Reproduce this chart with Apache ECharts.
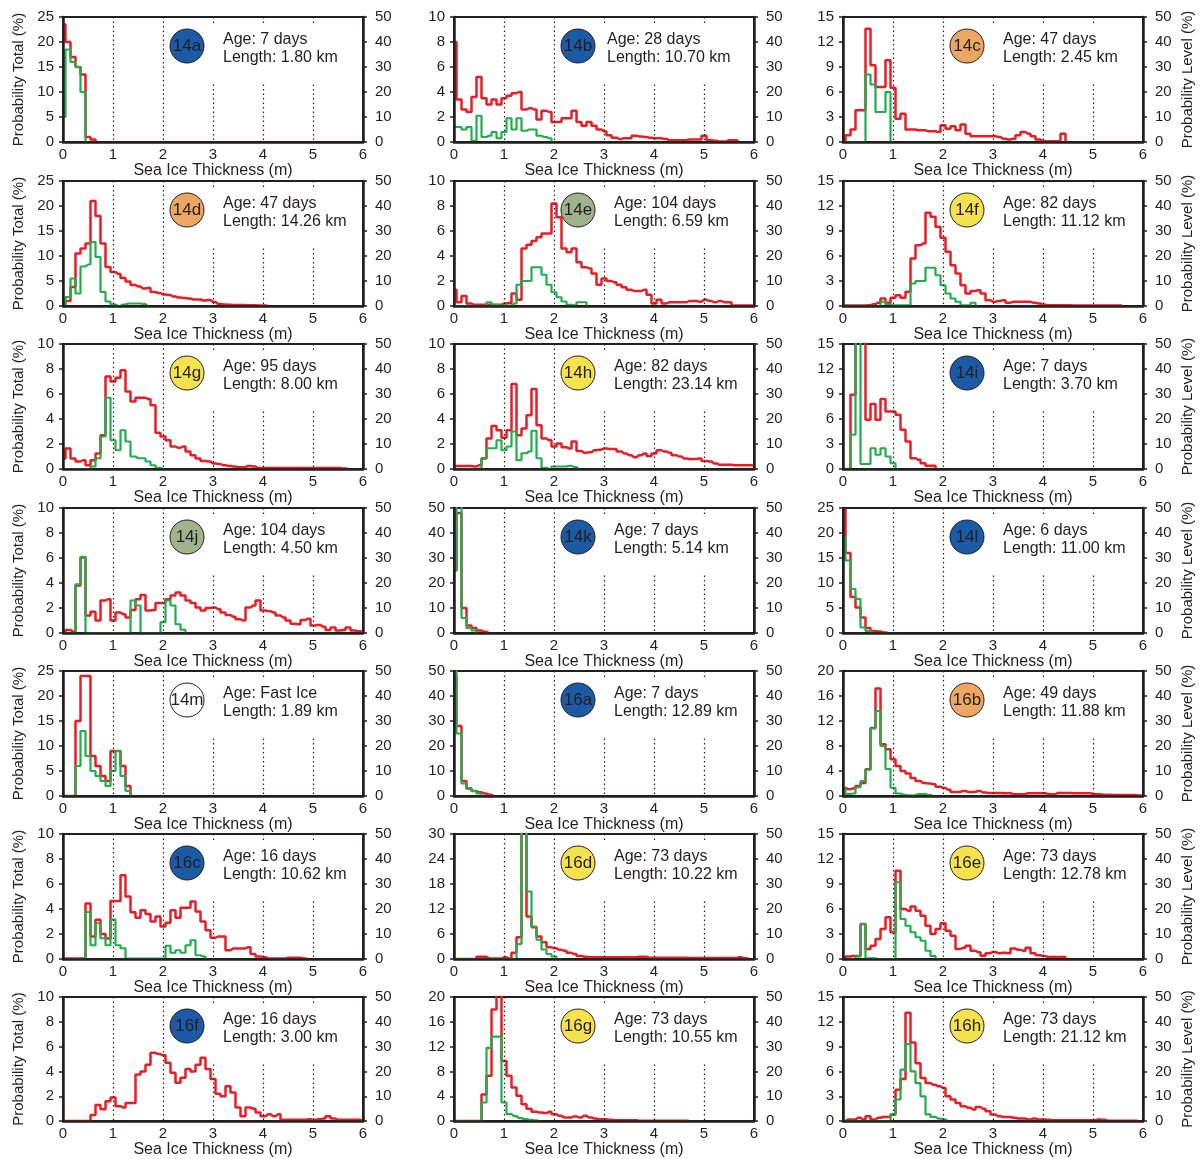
<!DOCTYPE html>
<html>
<head>
<meta charset="utf-8">
<script src="https://cdn.jsdelivr.net/npm/echarts@6/dist/echarts.min.js"></script>
<style>
html, body { margin: 0; padding: 0; background: #fff; }
#chart { width: 1202px; height: 1159px; }
</style>
</head>
<body>
<div id="chart"></div>
<script>
// bins are 0.1 m wide, centred on 0.0, 0.1, 0.2 ... m
const binWidth = 0.1;

// panel labels and texts
const panelIds = ['14a', '14b', '14c', '14d', '14e', '14f', '14g', '14h', '14i', '14j', '14k', '14l', '14m', '16a', '16b', '16c', '16d', '16e', '16f', '16g', '16h'];
const ages = ['7 days', '28 days', '47 days', '47 days', '104 days', '82 days', '95 days', '82 days', '7 days', '104 days', '7 days', '6 days', 'Fast Ice', '7 days', '49 days', '16 days', '73 days', '73 days', '16 days', '73 days', '73 days'];
const lengths = ['1.80', '10.70', '2.45', '14.26', '6.59', '11.12', '8.00', '23.14', '3.70', '4.50', '5.14', '11.00', '1.89', '12.89', '11.88', '10.62', '10.22', '12.78', '3.00', '10.55', '21.12'];
const totalMax = [25, 10, 15, 25, 10, 15, 10, 10, 15, 10, 50, 25, 25, 50, 20, 10, 30, 15, 10, 20, 15];
const levelMax = 50;
const xTicks = [0, 1, 2, 3, 4, 5, 6];

// probability total (%) - left axis
const total14a = [23.5, 20, 17, 15, 13.5, 1, 0.5, 0];
const total14b = [8.0, 3.4, 2.6, 2.4, 3.6, 5.2, 3.5, 3.0, 3.4, 3.0, 3.5, 3.7, 3.9, 4.0, 2.6, 2.7, 2.6, 1.8, 2.5, 2.4, 1.6, 1.6, 1.9, 1.9, 2.5, 1.6, 1.3, 1.6, 1.3, 1.0, 0.85, 0.55, 0.35, 0.25, 0.3, 0.3, 0.5, 0.45, 0.4, 0.35, 0.3, 0.3, 0.25, 0.15, 0.15, 0.15, 0.15, 0.2, 0.2, 0.2, 0.5, 0.15, 0.1, 0.05, 0.05, 0.15, 0.15, 0];
const total14c = [0, 0.8, 1.5, 3.8, 3.8, 13.6, 9.2, 6.6, 6.6, 9.8, 6.5, 2.8, 3.4, 1.5, 1.5, 1.4, 1.4, 1.3, 1.3, 1.2, 2.0, 1.6, 1.9, 1.4, 2.1, 1.0, 0.7, 0.7, 0.7, 0.7, 0.7, 0.6, 0.4, 0.3, 0.4, 0.8, 1.2, 1.0, 0.7, 0.3, 0.1, 0.1, 0.1, 0.1, 1.0, 0];
const total14d = [0.3, 1.0, 3.8, 10.5, 11.5, 12.5, 21, 18, 12.5, 7.8, 6.8, 6.4, 5.6, 4.9, 4.2, 3.9, 3.5, 3.6, 2.8, 2.6, 2.3, 2.2, 1.9, 1.7, 1.6, 1.5, 1.3, 1.3, 1.1, 1.2, 0.8, 0.4, 0.3, 0.25, 0.2, 0.2, 0.2, 0.15, 0.15, 0.1, 0.1, 0];
const total14e = [1.3, 0.3, 0.8, 0.2, 0.1, 0.1, 0.1, 0.1, 0.1, 0.1, 0.2, 0.25, 1.0, 0.5, 4.6, 4.9, 5.2, 5.5, 5.8, 5.8, 8.2, 7.1, 4.6, 4.3, 4.6, 3.5, 3.1, 3.0, 2.6, 1.7, 2.2, 2.0, 1.9, 1.7, 1.5, 1.3, 1.2, 1.2, 1.3, 0.9, 0.2, 0.5, 0.2, 0.3, 0.3, 0.3, 0.3, 0.4, 0.4, 0.35, 0.5, 0.4, 0.3, 0.4, 0.3, 0.3, 0.05, 0.05, 0.05, 0.05, 0];
const total14f = [0.05, 0.05, 0.05, 0.05, 0.05, 0.1, 0.2, 0.4, 0.9, 0.4, 1.0, 1.3, 1.0, 1.7, 5.7, 7.3, 7.5, 11.2, 10.7, 9.5, 8.2, 6.5, 4.9, 3.9, 2.5, 1.5, 1.8, 1.9, 1.5, 0.7, 0.5, 0.6, 0.7, 0.4, 0.5, 0.5, 0.5, 0.5, 0.4, 0.3, 0.15, 0.1, 0.1, 0.1, 0.1, 0.1, 0.05, 0.05, 0.05, 0.05, 0.05, 0.05, 0.05, 0.05, 0.05, 0.05, 0];
const total14g = [0.85, 1.65, 0.85, 0.6, 0.7, 0.3, 0.7, 1.25, 2.7, 7.4, 7.0, 7.3, 7.9, 6.2, 5.4, 5.7, 5.7, 5.6, 5.1, 2.9, 2.6, 2.3, 1.8, 1.7, 1.8, 1.4, 1.1, 0.85, 0.65, 0.6, 0.45, 0.4, 0.3, 0.25, 0.2, 0.15, 0.15, 0.25, 0.2, 0.08, 0.08, 0.08, 0.08, 0.08, 0.08, 0.08, 0.08, 0.08, 0.08, 0.08, 0.08, 0.08, 0.08, 0.08, 0.08, 0.08, 0.05, 0];
const total14h = [0.25, 0.25, 0.25, 0.25, 0.2, 0.3, 0.85, 2.45, 3.45, 3.1, 2.5, 3.1, 6.8, 2.7, 3.25, 4.3, 6.4, 3.5, 2.45, 2.3, 1.8, 2.05, 1.75, 1.65, 2.2, 1.45, 1.3, 1.35, 1.5, 1.55, 1.65, 1.6, 1.6, 1.4, 1.25, 1.1, 0.95, 1.1, 1.25, 1.05, 1.25, 1.5, 1.4, 1.3, 1.1, 1.0, 0.85, 0.8, 0.8, 0.85, 0.65, 0.6, 0.45, 0.35, 0.35, 0.35, 0.3, 0.3, 0.3, 0.3, 0.25];
const total14i = [0, 0, 8.9, 20, 20, 5.9, 7.8, 5.9, 8.4, 6.9, 6.9, 6.5, 4.7, 3.3, 1.3, 1.1, 0.7, 0.4, 0.4, 0];
const total14j = [0, 0.25, 0.1, 3.8, 6.05, 1.4, 1.7, 1.0, 2.6, 2.7, 1.0, 1.65, 1.5, 1.25, 1.85, 2.7, 3.05, 1.8, 1.85, 2.4, 2.4, 2.7, 3.0, 3.25, 3.0, 2.6, 2.4, 2.05, 1.8, 2.0, 2.05, 1.9, 1.65, 1.45, 1.3, 1.1, 1.0, 2.05, 2.2, 2.6, 1.8, 1.75, 1.65, 1.4, 1.25, 1.0, 0.75, 0.7, 1.05, 1.15, 0.6, 0.65, 0.5, 0.25, 0.45, 0.2, 0.25, 0.45, 0.2, 0.15, 0.1];
const total14k = [25, 48, 10, 3, 2, 1, 0.5, 0];
const total14l = [24.7, 16, 7.2, 5.1, 3.1, 1.0, 0.4, 0.3, 0.1, 0];
const total14m = [0, 0, 0, 15, 24, 24, 8, 6, 4, 3, 9, 9, 6, 2, 0];
const total16a = [48, 28, 6, 3, 2, 1.5, 1, 0.5, 0];
const total16b = [1.3, 1.1, 1.2, 1.6, 2.1, 4.3, 10.9, 17.2, 8.3, 7.5, 5.9, 4.8, 4.0, 3.6, 2.9, 2.4, 2.1, 2.0, 1.9, 1.5, 1.3, 1.0, 0.65, 0.65, 0.8, 0.65, 0.65, 0.8, 0.55, 0.5, 0.5, 0.5, 0.45, 0.45, 0.3, 0.3, 0.3, 0.45, 0.45, 0.45, 0.45, 0.3, 0.3, 0.5, 0.5, 0.5, 0.45, 0.45, 0.45, 0.45, 0.3, 0.3, 0.2, 0.2, 0.15, 0.15, 0.15, 0.15, 0.15, 0.1, 0];
const total16c = [0.05, 0.05, 0.05, 0.05, 0.05, 4.45, 1.8, 3.15, 2.0, 1.65, 4.65, 4.65, 6.7, 5.0, 3.75, 3.3, 3.9, 3.6, 3.0, 3.4, 2.6, 2.9, 3.9, 3.3, 4.1, 4.1, 4.6, 3.8, 3.0, 2.3, 1.7, 1.8, 1.8, 0.7, 0.85, 0.85, 0.85, 0.95, 0.4, 0.2, 0.15, 0.05, 0.05, 0.05, 0.05, 0.1, 0.1, 0.1, 0.05, 0];
const total16d = [0, 0, 0, 0, 0, 0.55, 0.55, 0.1, 0.1, 0.1, 0.4, 0.1, 1.5, 5.2, 38, 10.2, 7.6, 5.4, 4.0, 2.8, 2.6, 2.2, 2.0, 1.5, 1.2, 0.7, 0.55, 0.4, 0.4, 0.4, 0.4, 0.4, 0.4, 0.4, 0.4, 0.4, 0.4, 0.55, 0.55, 0.3, 0.3, 0.3, 0.3, 0.3, 0.3, 0.3, 0.3, 0.25, 0.25, 0.25, 0.25, 0.25, 0.25, 0.25, 0.25, 0.25, 0.25, 0.4, 0.2, 0];
const total16e = [0, 0.3, 0.35, 0.35, 4.2, 1.2, 1.6, 2.4, 3.6, 5.0, 3.2, 10.6, 6.0, 5.8, 6.3, 5.8, 5.2, 4.0, 3.0, 3.6, 4.3, 3.4, 2.8, 1.2, 1.35, 1.6, 1.0, 0.8, 0.4, 0.7, 0.85, 0.7, 0.75, 0.7, 1.25, 1.1, 1.0, 1.35, 0.7, 0.45, 0.35, 0.25, 0.25, 0.25, 0.25, 0];
const total16f = [0, 0, 0, 0, 0, 0, 0.5, 1.3, 0.95, 1.6, 1.9, 1.2, 1.1, 1.45, 1.45, 3.75, 4.0, 4.55, 5.5, 5.4, 5.3, 4.7, 3.9, 3.1, 3.5, 4.2, 4.0, 4.55, 5.1, 4.2, 3.4, 2.2, 2.0, 2.8, 2.3, 1.1, 0.4, 1.1, 1.0, 0.7, 0.4, 0.55, 0.4, 0.55, 0.1, 0.1, 0.1, 0.1, 0.1, 0.15, 0.1, 0.15, 0.2, 0.4, 0.2, 0.1, 0.1, 0.1, 0.1, 0.1, 0];
const total16g = [0, 0, 0, 0, 0, 0, 4.3, 7.3, 18, 23, 9.7, 7.3, 5.4, 4.1, 2.7, 2.0, 1.5, 1.4, 1.3, 1.5, 1.1, 0.85, 0.6, 0.6, 0.75, 0.6, 0.85, 0.6, 0.4, 0.3, 0.3, 0.2, 0.15, 0.15, 0.15, 0.15, 0.15, 0.05, 0.05, 0.05, 0.05, 0.05, 0.05, 0.05, 0.05, 0.05, 0.05, 0];
const total16h = [0, 0.2, 0.2, 0.4, 0.2, 0.6, 0.2, 0.4, 0.5, 0.5, 0.8, 3.8, 5.1, 13.1, 9.5, 7.0, 5.2, 4.6, 4.4, 4.2, 4.0, 3.0, 2.6, 2.2, 1.8, 1.6, 1.4, 1.7, 1.5, 1.2, 0.8, 0.6, 0.5, 0.5, 0.4, 0.3, 0.3, 0.2, 0.3, 0.2, 0.2, 0.15, 0.1, 0.1, 0.1, 0.1, 0.1, 0.1, 0.1, 0.1, 0.1, 0.2, 0.15, 0.05, 0.05, 0.05, 0.05, 0.05, 0.05, 0];

// probability level (%) - right axis
const level14a = [10, 37, 32, 30, 20, 0];
const level14b = [6, 6, 5, 6, 0.5, 10.5, 2, 2.5, 4, 1.5, 4, 9.5, 5, 9.5, 4.5, 5, 5, 2.5, 2, 1.5, 0];
const level14c = [0, 0, 0, 0, 0, 27, 23, 12, 12, 20, 0];
const level14d = [0, 3.6, 11, 5, 15.8, 16.6, 25.6, 19.6, 5.6, 1.8, 0.6, 0, 0.6, 1, 1, 1, 0.8, 0];
const level14e = [0, 0, 0, 0, 0, 0, 0, 1.5, 0.5, 0.2, 0.2, 0.2, 1, 8.5, 10, 10, 15.5, 15.5, 12.5, 8.5, 5.5, 3.5, 1.8, 0.5, 0.3, 1.5, 1.5, 0];
const level14f = [0, 0, 0, 0, 0, 0, 0, 0, 1.7, 0.7, 0.3, 0.3, 0.3, 0.3, 9, 10, 10, 15.3, 15.3, 12.3, 8.3, 5, 3, 1.7, 0.3, 0.3, 1.3, 0];
const level14g = [0, 0, 0, 0, 0, 0, 1, 4.3, 13, 28.5, 11.5, 7.5, 15.5, 11, 5, 4.3, 4.3, 3, 1.5, 0.5, 0];
const level14h = [0, 0, 0, 0, 0, 0.2, 4.3, 8.3, 8.3, 11.5, 7.5, 9, 15, 3.5, 6.3, 7, 15.3, 4.3, 0.5, 0, 1, 1, 1, 1.3, 0.8, 0];
const level14i = [0, 0, 13.7, 55, 2, 2, 8.3, 5.7, 8.3, 5, 2.3, 0];
const level14j = [0, 0, 0, 19.5, 30.5, 0, 0, 0, 0, 0, 0, 0, 0, 0, 13, 11, 0, 0, 0, 0, 4.3, 13, 11, 3.5, 1.3, 0];
const level14k = [25, 52, 6, 2, 1, 0];
const level14l = [38.4, 29, 17.6, 13.6, 2.2, 0.8, 0];
const level14m = [0, 0, 0, 12, 26, 16, 10, 8, 6, 4, 10, 18, 8, 2, 0];
const level16a = [50, 25, 5, 3, 2, 1, 0];
const level16b = [3.3, 0.8, 1, 3.5, 6, 10.5, 27, 34, 20, 10.8, 3.3, 1, 0.5, 0.3, 0.3, 0.8, 0.8, 0.5, 0];
const level16c = [0, 0, 0, 0, 0, 18.8, 5.5, 14.3, 8.3, 5.5, 15.8, 5.5, 4.3, 0.2, 0.2, 0.2, 0.2, 0.2, 0.2, 0.2, 0.2, 5.3, 2.5, 3.5, 2.5, 5.5, 7.5, 1.5, 1, 0];
const level16d = [0, 0, 0, 0, 0, 0, 0, 0, 0, 0, 0, 0, 0, 6, 55, 27, 13, 7.7, 3.8, 2, 1, 0];
const level16e = [0, 0, 0, 1, 14, 0.3, 0.3, 0, 0, 0, 0, 30.7, 16, 13.3, 10.7, 8.7, 7.3, 3.3, 1.2, 0];
const level16f = [];
const level16g = [0, 0, 0, 0, 0, 0, 7.5, 29.5, 34, 34, 7.5, 2.8, 2, 1.2, 0.8, 0.5, 0.3, 0];
const level16h = [0, 0, 0, 0, 0, 0, 0, 0, 0, 0, 2.7, 8.7, 20.7, 31, 20, 15.3, 10, 2.7, 1.7, 1, 0.7, 0];

const totals = [total14a, total14b, total14c, total14d, total14e, total14f, total14g, total14h, total14i, total14j, total14k, total14l, total14m, total16a, total16b, total16c, total16d, total16e, total16f, total16g, total16h];
const levels = [level14a, level14b, level14c, level14d, level14e, level14f, level14g, level14h, level14i, level14j, level14k, level14l, level14m, level16a, level16b, level16c, level16d, level16e, level16f, level16g, level16h];

// layout
const colLefts = [63, 454, 843];
const rowTops = [17, 181, 344, 508, 671, 834, 997];
const plotW = 300;
const plotH = 125;

const dark = '#231f20';
const red = '#ec1c24';
const green = '#1fae4b';
const font = '"Liberation Sans", Arial, sans-serif';

function circleColor(id, age) {
  if (age === 'Fast Ice') return '#ffffff';
  const days = parseInt(age, 10);
  if (days <= 28) return '#1c5aa6';
  if (days <= 49) return '#eda762';
  if (days >= 100) return '#a0b38c';
  return '#f5e24e';
}

// bin values -> [centre, value] points
const toPoints = arr => arr.map((v, k) => [Math.round(k * binWidth * 10) / 10, v]);

const grids = [], xAxes = [], yAxes = [], series = [], graphics = [];

panelIds.forEach((id, i) => {
  const col = i % 3;
  const row = Math.floor(i / 3);
  const left = colLefts[col];
  const top = rowTops[row];

  grids.push({
    left: left, top: top, width: plotW, height: plotH,
    show: true, borderColor: dark, borderWidth: 2
  });

  xAxes.push({
    gridIndex: i, type: 'value', min: xTicks[0], max: xTicks[xTicks.length - 1], interval: 1,
    z: 5,
    axisLine: { show: true, lineStyle: { color: dark, width: 2.5 } },
    axisTick: { show: false },
    axisLabel: { fontSize: 15, color: dark, margin: 5, fontFamily: font },
    splitLine: { show: true, lineStyle: { color: dark, width: 1.2, type: [1.5, 3] } },
    name: 'Sea Ice Thickness (m)', nameLocation: 'middle', nameGap: 18,
    nameTextStyle: { fontSize: 16, color: dark, fontFamily: font }
  });

  yAxes.push({
    gridIndex: i, type: 'value', position: 'left', min: 0, max: totalMax[i], interval: totalMax[i] / 5,
    z: 5,
    axisLine: { show: true, lineStyle: { color: dark, width: 2.5 } },
    axisTick: { show: true, length: 4, lineStyle: { color: dark, width: 1.5 } },
    axisLabel: { fontSize: 15, color: dark, margin: 9, fontFamily: font },
    splitLine: { show: false },
    name: col === 0 ? 'Probability Total (%)' : '', nameLocation: 'middle', nameGap: 37,
    nameTextStyle: { fontSize: 15, color: dark, fontFamily: font }
  });

  yAxes.push({
    gridIndex: i, type: 'value', position: 'right', min: 0, max: levelMax, interval: 10,
    z: 5,
    axisLine: { show: true, lineStyle: { color: dark, width: 2.5 } },
    axisTick: { show: true, length: 4, lineStyle: { color: dark, width: 1.5 } },
    axisLabel: { fontSize: 15, color: dark, margin: 12, fontFamily: font },
    splitLine: { show: false },
    name: col === 2 ? 'Probability Level (%)' : '', nameLocation: 'middle', nameGap: 37,
    nameTextStyle: { fontSize: 15, color: dark, fontFamily: font }
  });

  series.push({
    type: 'line', xAxisIndex: i, yAxisIndex: 2 * i, step: 'middle',
    data: toPoints(totals[i]), symbol: 'none', z: 2,
    lineStyle: { color: red, width: 2.5 }, itemStyle: { color: red }
  });
  series.push({
    type: 'line', xAxisIndex: i, yAxisIndex: 2 * i + 1, step: 'middle',
    data: toPoints(levels[i]), symbol: 'none', z: 3,
    lineStyle: { color: green, width: 2.2 }, itemStyle: { color: green }
  });

  const textX = left + (id === '14b' ? 153 : 160);
  const cx = left + 124;
  graphics.push(
    { type: 'rect', shape: { x: left + 145, y: top + 7, width: 150, height: 60 }, style: { fill: '#fff' }, z: 50 },
    { type: 'circle', shape: { cx: cx, cy: top + 29, r: 17 }, style: { fill: circleColor(id, ages[i]), stroke: dark, lineWidth: 1 }, z: 51 },
    { type: 'text', x: cx, y: top + 29, style: { text: id, font: '17px ' + font, fill: dark, align: 'center', verticalAlign: 'middle' }, z: 52 },
    { type: 'text', x: textX, y: top + 23, style: { text: 'Age: ' + ages[i], font: '16px ' + font, fill: dark, align: 'left', verticalAlign: 'middle' }, z: 52 },
    { type: 'text', x: textX, y: top + 41, style: { text: 'Length: ' + lengths[i] + ' km', font: '16px ' + font, fill: dark, align: 'left', verticalAlign: 'middle' }, z: 52 }
  );
});

const chart = echarts.init(document.getElementById('chart'), null, { renderer: 'canvas' });
chart.setOption({
  animation: false,
  backgroundColor: '#fff',
  textStyle: { fontFamily: font },
  grid: grids,
  xAxis: xAxes,
  yAxis: yAxes,
  series: series,
  graphic: graphics
});
window.addEventListener('resize', () => chart.resize());
</script>
</body>
</html>
